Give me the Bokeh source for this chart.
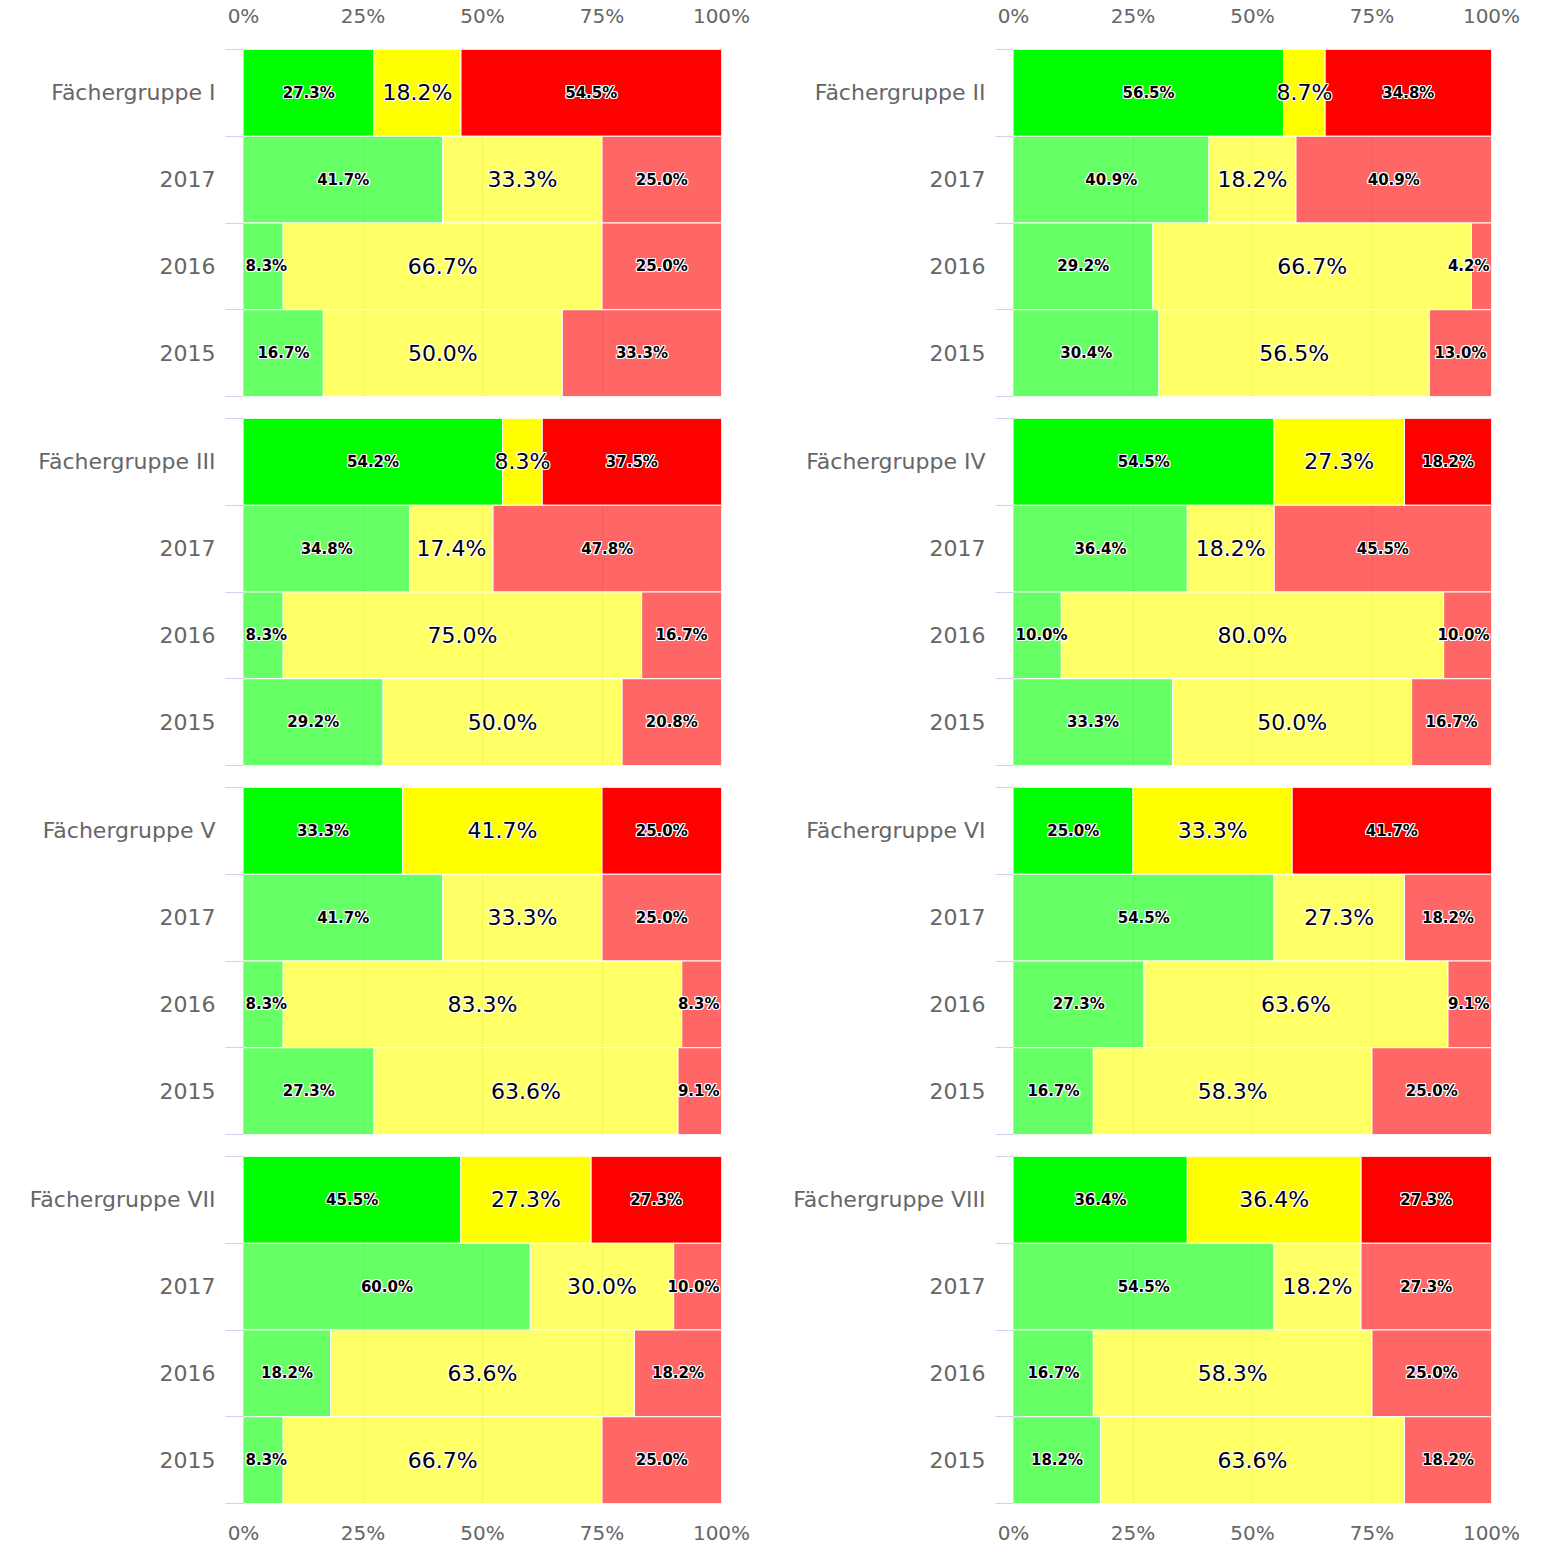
from bokeh.plotting import figure
from bokeh.models import (Range1d, LinearAxis, FixedTicker, PrintfTickFormatter, ColumnDataSource)
from bokeh.layouts import row, column
from bokeh.embed import file_html
from bokeh.resources import INLINE
from bokeh.core.properties import value

# ---------------- data ----------------
groups = ["Fächergruppe I", "Fächergruppe II", "Fächergruppe III", "Fächergruppe IV",
          "Fächergruppe V", "Fächergruppe VI", "Fächergruppe VII", "Fächergruppe VIII"]
years = ["2017", "2016", "2015"]
x_ticks = [0, 25, 50, 75, 100]

# share in % per group, rows: [current, 2017, 2016, 2015]
good = [
    [27.3, 41.7, 8.3, 16.7],
    [56.5, 40.9, 29.2, 30.4],
    [54.2, 34.8, 8.3, 29.2],
    [54.5, 36.4, 10.0, 33.3],
    [33.3, 41.7, 8.3, 27.3],
    [25.0, 54.5, 27.3, 16.7],
    [45.5, 60.0, 18.2, 8.3],
    [36.4, 54.5, 16.7, 18.2],
]
mid = [
    [18.2, 33.3, 66.7, 50.0],
    [8.7, 18.2, 66.7, 56.5],
    [8.3, 17.4, 75.0, 50.0],
    [27.3, 18.2, 80.0, 50.0],
    [41.7, 33.3, 83.3, 63.6],
    [33.3, 27.3, 63.6, 58.3],
    [27.3, 30.0, 63.6, 66.7],
    [36.4, 18.2, 58.3, 63.6],
]
bad = [
    [54.5, 25.0, 25.0, 33.3],
    [34.8, 40.9, 4.2, 13.0],
    [37.5, 47.8, 16.7, 20.8],
    [18.2, 45.5, 10.0, 16.7],
    [25.0, 25.0, 8.3, 9.1],
    [41.7, 18.2, 9.1, 25.0],
    [27.3, 10.0, 18.2, 25.0],
    [27.3, 27.3, 25.0, 18.2],
]

# ---------------- style ----------------
COLORS = ["#00ff00", "#ffff00", "#ff0000"]
FONT = "DejaVu Sans"
FRAME_W, FRAME_H = 478, 347
SMALL_FS, BIG_FS = 15, 22
EM_N = {c: 0.636 for c in "0123456789"}
EM_N.update({".": 0.318, "%": 0.95})
EM_B = {c: 0.696 for c in "0123456789"}
EM_B.update({".": 0.38, "%": 1.002})
HALO = [(-1, -1), (-1, 0), (-1, 1), (0, -1), (0, 1), (1, -1), (1, 0), (1, 1)]


def text_width(s, fs, bold):
    em = EM_B if bold else EM_N
    return sum(em.get(c, 0.6) for c in s) * fs


def make_panel(gi, vpos, side):
    labels = [groups[gi]] + years
    n = len(labels)
    # row r (top to bottom) is centred at n - r - 0.5
    centers = [n - r - 0.5 for r in range(n)]
    x_loc = "above" if vpos == "top" else ("below" if vpos == "bottom" else None)
    p = figure(
        x_range=Range1d(0, 100), y_range=Range1d(0, n),
        frame_width=FRAME_W, frame_height=FRAME_H,
        output_backend="svg", toolbar_location=None,
        x_axis_location=x_loc, y_axis_location=None,
        min_border_left=243, min_border_right=49 if side == "left" else 30,
        min_border_top=40 if vpos == "top" else 11,
        min_border_bottom=40 if vpos == "bottom" else 11,
        outline_line_color=None, background_fill_color="white",
    )
    p.xgrid.ticker = FixedTicker(ticks=x_ticks)
    p.xgrid.grid_line_color = "#e6e6e6"
    p.ygrid.visible = False

    if x_loc is not None:
        ax = p.xaxis[0]
        ax.ticker = FixedTicker(ticks=x_ticks)
        ax.formatter = PrintfTickFormatter(format="%d%%")
        ax.axis_line_color = None
        ax.major_tick_line_color = None
        ax.minor_tick_line_color = None
        ax.major_label_text_font = FONT
        ax.major_label_text_font_size = "20px"
        ax.major_label_text_color = "#666666"
        ax.major_label_standoff = 16 if vpos == "top" else 11

    # tick axis at category boundaries
    tick_ax = LinearAxis(
        ticker=FixedTicker(ticks=list(range(n + 1))),
        major_tick_out=18, major_tick_in=0, major_tick_line_color="#ccd6eb",
        minor_tick_line_color=None, axis_line_color="#ccd6eb",
        major_label_text_font_size="0px", major_label_standoff=0,
        major_label_overrides={i: "" for i in range(n + 1)},
    )
    p.add_layout(tick_ax, "left")
    cat_ax = LinearAxis(
        ticker=FixedTicker(ticks=centers),
        major_label_overrides={c: lab for c, lab in zip(centers, labels)},
        major_tick_line_color=None, minor_tick_line_color=None, axis_line_color=None,
        major_label_text_font=FONT, major_label_text_font_size="22px",
        major_label_text_color="#666666", major_label_standoff=4,
    )
    p.add_layout(cat_ax, "left")

    # bars
    series = [good[gi], mid[gi], bad[gi]]
    ys, lefts, rights, cols, alphas = [], [], [], [], []
    sm = dict(x=[], y=[], t=[])
    bg = dict(x=[], y=[], t=[])
    for r in range(n):
        yc = centers[r]
        vals = [s[r] for s in series]
        tot = sum(vals)
        acc = 0.0
        for k, v in enumerate(vals):
            l = acc / tot * 100
            acc += v
            rr = acc / tot * 100
            ys.append(yc); lefts.append(l); rights.append(rr)
            cols.append(COLORS[k]); alphas.append(1.0 if r == 0 else 0.6)
            txt = f"{v:.1f}%"
            big = (k == 1)
            fs = BIG_FS if big else SMALL_FS
            hw = (text_width(txt, fs, not big) / 2 + 2) * 100 / FRAME_W
            cx = min(max((l + rr) / 2, hw), 100 - hw)
            d = bg if big else sm
            d["x"].append(cx); d["y"].append(yc); d["t"].append(txt)
    src = ColumnDataSource(dict(y=ys, left=lefts, right=rights, color=cols, alpha=alphas))
    p.hbar(y="y", left="left", right="right", height=1.0, source=src,
           fill_color="color", fill_alpha="alpha", line_color="white", line_width=1)
    for d, fs, style in ((sm, SMALL_FS, "bold"), (bg, BIG_FS, "normal")):
        lsrc = ColumnDataSource(d)
        common = dict(x="x", y="y", text="t", source=lsrc, text_font=value(FONT),
                      text_font_size=f"{fs}px", text_font_style=style,
                      text_align="center", text_baseline="middle")
        # white halo
        for dx, dy in HALO:
            p.text(text_color="white", x_offset=dx, y_offset=dy, **common)
        # black text on top
        p.text(text_color="#000000", **common)
    return p


left_col, right_col = [], []
for i in range(4):
    vpos = "top" if i == 0 else ("bottom" if i == 3 else "mid")
    left_col.append(make_panel(2 * i, vpos, "left"))
    right_col.append(make_panel(2 * i + 1, vpos, "right"))

layout = row(column(*left_col), column(*right_col))
open("out.html", "w").write(file_html(layout, INLINE))
